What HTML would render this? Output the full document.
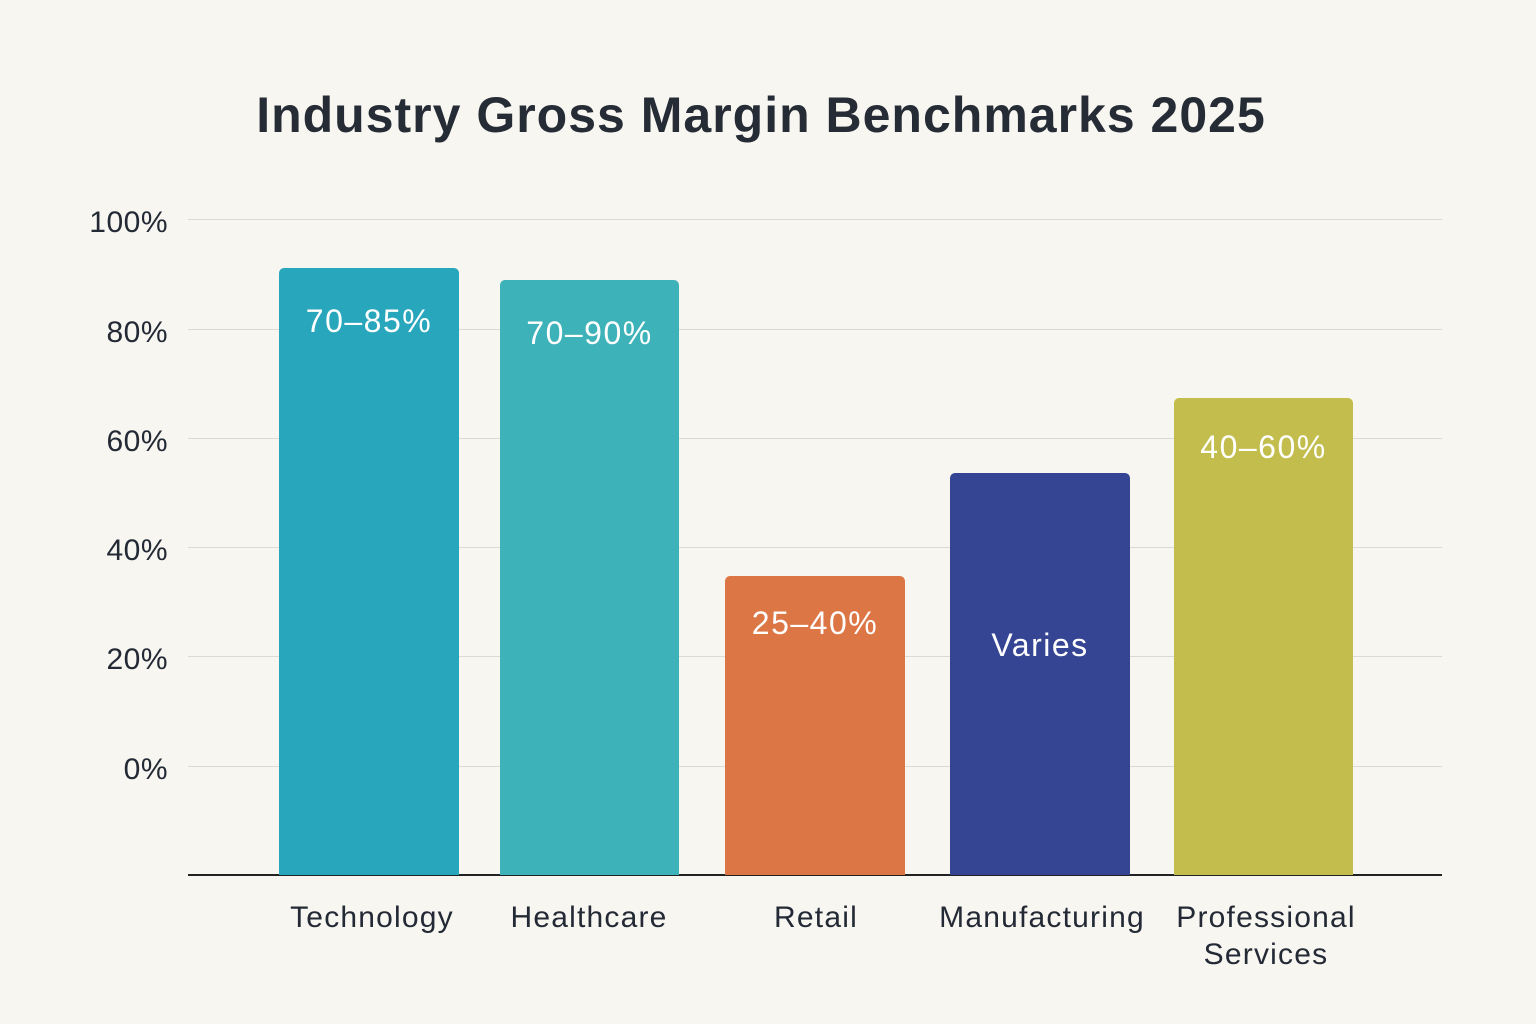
<!DOCTYPE html>
<html><head><meta charset="utf-8"><style>
html,body{margin:0;padding:0;}
body{width:1536px;height:1024px;background:#f8f6f1;position:relative;overflow:hidden;font-family:"Liberation Sans","DejaVu Sans",sans-serif;color:#232a35;}
.t{position:absolute;white-space:nowrap;}
.grid{position:absolute;left:188px;width:1254px;height:1px;background:#dcdad4;}
.yl{position:absolute;width:168px;text-align:right;left:0;font-size:30px;letter-spacing:0.5px;color:#232a35;}
.bar{position:absolute;border-radius:5px 5px 0 0;}
.bl{position:absolute;color:#fff;font-size:32px;letter-spacing:1.5px;text-align:center;width:100%;}
.xl{position:absolute;font-size:30px;letter-spacing:1.2px;text-align:center;width:280px;line-height:37px;}
</style></head><body>
<div class="t" style="left:0;width:1522px;text-align:center;top:86px;font-size:50px;font-weight:bold;letter-spacing:1px;color:#262c36;">Industry Gross Margin Benchmarks 2025</div>

<div class="grid" style="top:219px"></div>
<div class="grid" style="top:329px"></div>
<div class="grid" style="top:438px"></div>
<div class="grid" style="top:547px"></div>
<div class="grid" style="top:656px"></div>
<div class="grid" style="top:766px"></div>
<div class="grid" style="top:874px;height:2px;background:#222"></div>

<div class="yl" style="top:206px">100%</div>
<div class="yl" style="top:316px">80%</div>
<div class="yl" style="top:425px">60%</div>
<div class="yl" style="top:534px">40%</div>
<div class="yl" style="top:643px">20%</div>
<div class="yl" style="top:753px">0%</div>

<div class="bar" style="left:279px;width:180px;top:268px;height:607px;background:#28a6bc"><div class="bl" style="top:35px">70–85%</div></div>
<div class="bar" style="left:500px;width:179px;top:280px;height:595px;background:#3db2b8"><div class="bl" style="top:35px">70–90%</div></div>
<div class="bar" style="left:725px;width:180px;top:576px;height:299px;background:#dd7645"><div class="bl" style="top:29px">25–40%</div></div>
<div class="bar" style="left:950px;width:180px;top:473px;height:402px;background:#364593"><div class="bl" style="top:154px">Varies</div></div>
<div class="bar" style="left:1174px;width:179px;top:398px;height:477px;background:#c2bd4c"><div class="bl" style="top:31px">40–60%</div></div>

<div class="xl" style="left:232px;top:899px">Technology</div>
<div class="xl" style="left:449px;top:899px">Healthcare</div>
<div class="xl" style="left:676px;top:899px">Retail</div>
<div class="xl" style="left:902px;top:899px">Manufacturing</div>
<div class="xl" style="left:1126px;top:899px">Professional<br>Services</div>
</body></html>
